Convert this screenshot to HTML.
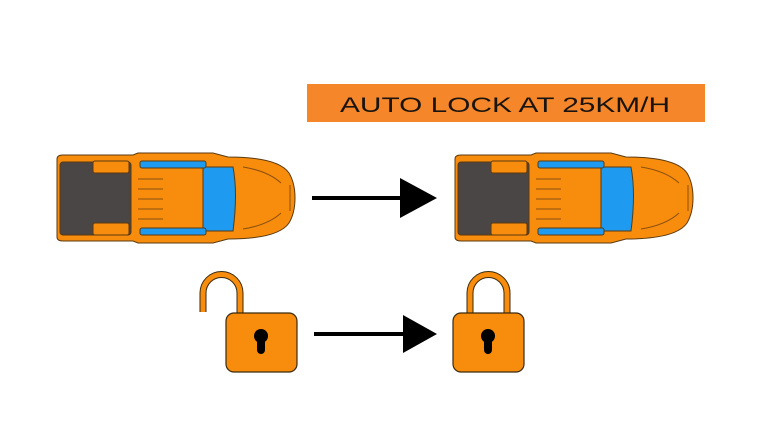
<!DOCTYPE html>
<html><head><style>body{margin:0;background:#fff;}svg{display:block}</style></head><body>
<svg width="770" height="440" viewBox="0 0 770 440" xmlns="http://www.w3.org/2000/svg">
<defs>
<g id="car" stroke="#5a3a10" stroke-width="1">
  <path d="M4,6 Q4,2 10,2 L80,2 L85,0 L160,0 L175,4 Q225,4 236,20 Q242,30 242,45 Q242,60 236,70 Q225,86 175,86 L160,90 L85,90 L80,88 L10,88 Q4,88 4,84 Z" fill="#f88c0c"/>
  <rect x="7" y="9" width="71" height="73" rx="3" fill="#4a4646"/>
  <rect x="40" y="8" width="36" height="12" rx="2" fill="#f88c0c"/>
  <rect x="40" y="70" width="36" height="12" rx="2" fill="#f88c0c"/>
  <path d="M150,14 L180,14 Q185,40 180,78 L150,78 Z" fill="#1e9bf0"/>
  <rect x="87" y="8" width="66" height="7" rx="2" fill="#1e9bf0"/>
  <rect x="87" y="75" width="66" height="7" rx="2" fill="#1e9bf0"/>
  <g fill="none" stroke="#8a5010">
    <line x1="85" y1="26" x2="110" y2="26"/><line x1="85" y1="36" x2="110" y2="36"/>
    <line x1="85" y1="46" x2="110" y2="46"/><line x1="85" y1="56" x2="110" y2="56"/>
    <line x1="85" y1="66" x2="110" y2="66"/>
    <path d="M190,14 Q215,18 228,30"/><path d="M190,76 Q215,72 228,60"/>
    <line x1="237" y1="32" x2="237" y2="58"/>
  </g>
</g>
<g id="lockbody">
  <rect x="0" y="0" width="71" height="59" rx="8" fill="#f88c0c" stroke="#3a2a10" stroke-width="1.2"/>
  <circle cx="35" cy="23" r="7" fill="#000"/>
  <rect x="31" y="23" width="8" height="18" rx="4" fill="#000"/>
</g>
</defs>
<rect x="307" y="84" width="398" height="38" fill="#f5862a"/>
<text x="340" y="112" font-family="Liberation Sans, sans-serif" font-size="21" fill="#1a1410" textLength="330" lengthAdjust="spacingAndGlyphs">AUTO LOCK AT 25KM/H</text>
<use href="#car" x="53" y="153"/>
<use href="#car" x="451" y="153"/>
<line x1="312" y1="198" x2="402" y2="198" stroke="#000" stroke-width="4"/>
<polygon points="400,178 437,198 400,218" fill="#000"/>
<line x1="314" y1="334" x2="405" y2="334" stroke="#000" stroke-width="4"/>
<polygon points="403,315 437,334 403,353" fill="#000"/>
<path d="M203,312 L203,293 A18.5,18.5 0 0 1 240,293 L240,313" fill="none" stroke="#3a2a10" stroke-width="7"/>
<path d="M203,312 L203,293 A18.5,18.5 0 0 1 240,293 L240,314" fill="none" stroke="#f88c0c" stroke-width="5"/>
<use href="#lockbody" x="226" y="313"/>
<path d="M470,314 L470,293 A18.5,18.5 0 0 1 507,293 L507,314" fill="none" stroke="#3a2a10" stroke-width="7"/>
<path d="M470,314 L470,293 A18.5,18.5 0 0 1 507,293 L507,314" fill="none" stroke="#f88c0c" stroke-width="5"/>
<use href="#lockbody" x="453" y="313"/>
</svg>
</body></html>
